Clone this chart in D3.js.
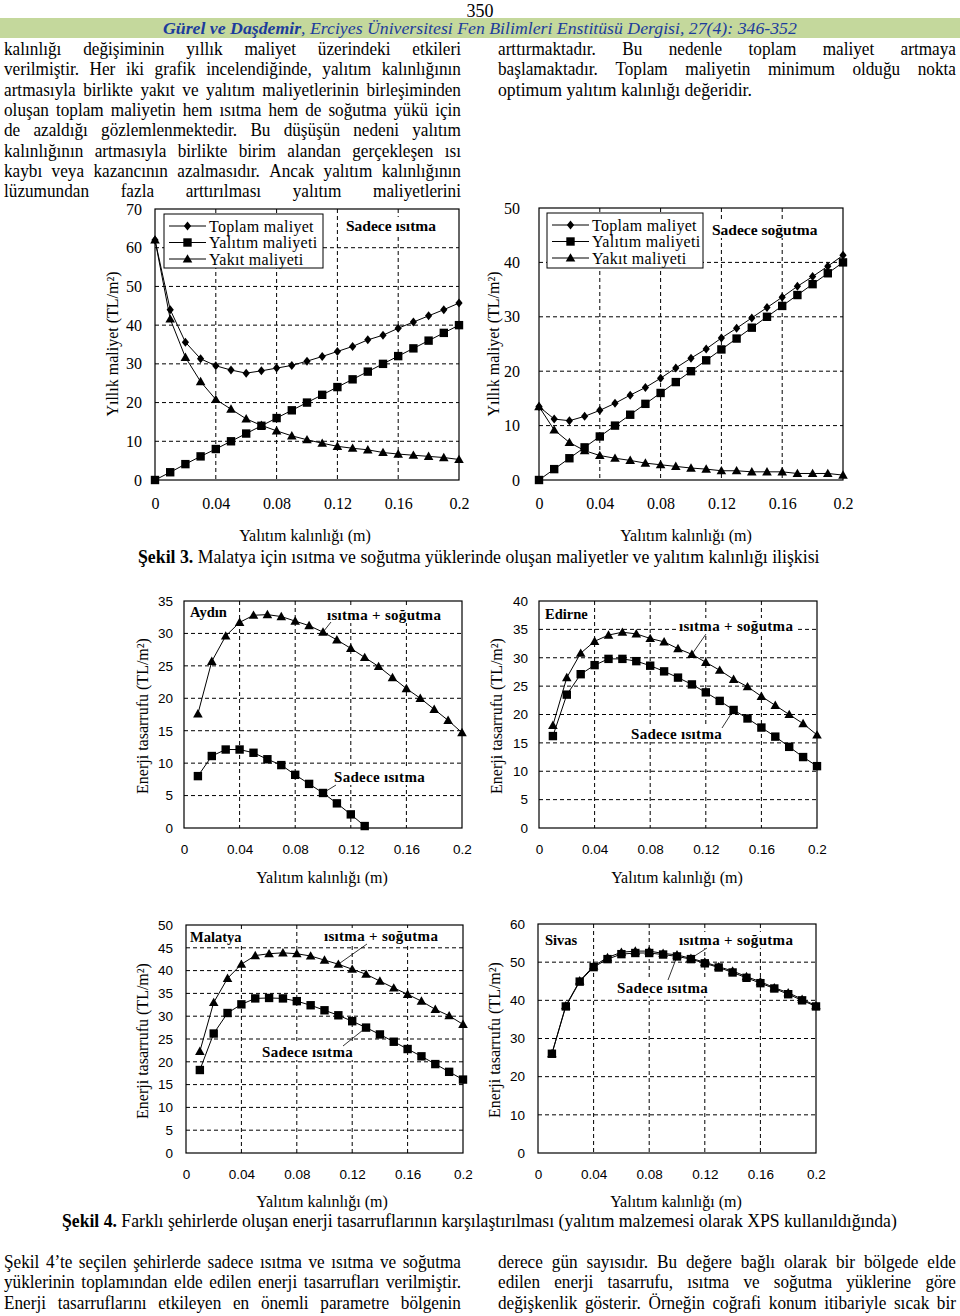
<!DOCTYPE html>
<html><head><meta charset="utf-8">
<script src="https://cdn.jsdelivr.net/npm/d3@7/dist/d3.min.js"></script>
<style>body{margin:0;background:#fff}</style>
</head><body>
<svg id="page" width="960" height="1316" xmlns="http://www.w3.org/2000/svg"></svg>
<script>
// ---------------- DATA ----------------
const thickness = [0,0.01,0.02,0.03,0.04,0.05,0.06,0.07,0.08,0.09,0.10,0.11,0.12,0.13,0.14,0.15,0.16,0.17,0.18,0.19,0.20];
const thicknessFrom1 = [0.01,0.02,0.03,0.04,0.05,0.06,0.07,0.08,0.09,0.10,0.11,0.12,0.13,0.14,0.15,0.16,0.17,0.18,0.19,0.20];
const xTickValues = [0,0.04,0.08,0.12,0.16,0.2];
const xTickLabels = ["0","0.04","0.08","0.12","0.16","0.2"];

// Şekil 3 - Sadece ısıtma
const heatTotal      = [62,44,35.6,31.3,29.5,28.4,27.6,28.2,28.9,29.6,30.7,31.9,33.2,34.5,36.2,37.4,39.2,40.8,42.4,44,45.7];
const heatInsulation = [0,2,4.1,6.1,8,10,12,14,16,18,20,22,24,26,28,30,32,34,36,38,40];
const heatFuel       = [62,41.6,31.7,25.4,20.8,18.3,15.8,14.1,12.7,11.4,10.4,9.5,8.7,8.2,7.8,7.1,6.7,6.4,6.1,5.8,5.3];
// Şekil 3 - Sadece soğutma
const coolTotal      = [13.5,11.2,10.9,11.7,12.8,14.1,15.6,17.0,18.7,20.6,22.4,24.1,26.1,27.9,29.8,31.7,33.6,35.6,37.4,39.3,41.3];
const coolInsulation = [0,2,4,6,8,10,12,14,16,18,20,22,24,26,28,30,32,34,36,38,40];
const coolFuel       = [13.5,9.2,6.9,5.4,4.5,4.0,3.6,3.1,2.8,2.5,2.2,2.0,1.7,1.7,1.5,1.5,1.5,1.2,1.2,1.2,0.9];

// Şekil 4 - energy savings (x = thicknessFrom1)
const aydinBoth   = [17.6,25.7,29.6,31.7,32.8,32.9,32.6,31.9,31.2,30.2,29.0,27.7,26.3,24.9,23.2,21.5,20.0,18.3,16.6,14.7];
const aydinHeat   = [8.0,11.1,12.1,12.1,11.6,10.6,9.7,8.2,6.8,5.4,3.8,2.1,0.3];
const edirneBoth  = [18.1,26.5,30.8,32.9,34.0,34.5,34.2,33.4,32.8,31.6,30.6,29.2,27.8,26.2,24.9,23.2,21.6,20.0,18.4,16.4];
const edirneHeat  = [16.2,23.5,27.1,28.7,29.8,29.8,29.4,28.6,27.6,26.5,25.3,23.9,22.4,20.8,19.3,17.7,16.1,14.3,12.5,10.9];
const malatyaBoth = [22.3,33.0,38.3,41.4,43.3,43.7,43.9,43.7,43.2,42.3,41.4,40.3,39.2,37.7,36.2,34.8,33.3,31.5,30.1,28.2];
const malatyaHeat = [18.2,26.2,30.7,32.6,33.9,34.0,33.9,33.3,32.4,31.3,30.2,28.9,27.5,26.0,24.4,22.8,21.2,19.5,17.8,16.1];
const sivasBoth   = [26.0,38.6,45.1,49.0,51.2,52.6,52.9,52.9,52.3,51.9,51.0,50.0,48.8,47.7,46.2,44.9,43.3,42.0,40.3,38.6];
const sivasHeat   = [26.0,38.4,44.9,48.7,50.8,52.1,52.4,52.4,52.0,51.5,50.8,49.7,48.6,47.3,45.9,44.5,43.1,41.6,40.0,38.4];

const yTicksHeat   = [0,10,20,30,40,50,60,70];
const yTicksCool   = [0,10,20,30,40,50];
const yTicksAydin  = [0,5,10,15,20,25,30,35];
const yTicksEdirne = [0,5,10,15,20,25,30,35,40];
const yTicksMalatya= [0,5,10,15,20,25,30,35,40,45,50];
const yTicksSivas  = [0,10,20,30,40,50,60];

const legendNames = ["Toplam maliyet","Yalıtım maliyeti","Yakıt maliyeti"];

// ---------------- TEXT ----------------
const leftTop = [
 "kalınlığı değişiminin yıllık maliyet üzerindeki etkileri",
 "verilmiştir. Her iki grafik incelendiğinde, yalıtım kalınlığının",
 "artmasıyla birlikte yakıt ve yalıtım maliyetlerinin birleşiminden",
 "oluşan toplam maliyetin hem ısıtma hem de soğutma yükü için",
 "de azaldığı gözlemlenmektedir. Bu düşüşün nedeni yalıtım",
 "kalınlığının artmasıyla birlikte birim alandan gerçekleşen ısı",
 "kaybı veya kazancının azalmasıdır. Ancak yalıtım kalınlığının",
 "lüzumundan fazla arttırılması yalıtım maliyetlerini"];
const rightTop = [
 "arttırmaktadır. Bu nedenle toplam maliyet artmaya",
 "başlamaktadır. Toplam maliyetin minimum olduğu nokta"];
const rightTopLast = "optimum yalıtım kalınlığı değeridir.";
const leftBottom = [
 "Şekil 4’te seçilen şehirlerde sadece ısıtma ve ısıtma ve soğutma",
 "yüklerinin toplamından elde edilen enerji tasarrufları verilmiştir.",
 "Enerji tasarruflarını etkileyen en önemli parametre bölgenin"];
const rightBottom = [
 "derece gün sayısıdır. Bu değere bağlı olarak bir bölgede elde",
 "edilen enerji tasarrufu, ısıtma ve soğutma yüklerine göre",
 "değişkenlik gösterir. Örneğin coğrafi konum itibariyle sıcak bir"];

// ---------------- DRAWING ----------------
const svg = d3.select('#page');
const SERIF = "'Liberation Serif','Times New Roman',serif";
const SANS = "'Liberation Sans',Arial,sans-serif";
const BODY_FS = 18.5, K = 0.93;

svg.append('rect').attr('width',960).attr('height',1316).attr('fill','#fff');

function measure(str, fs, weight, style, family){
  const t = svg.append('text').attr('font-family',family||SERIF).attr('font-size',fs)
    .attr('font-weight',weight||'normal').attr('font-style',style||'normal').text(str);
  const w = t.node().getComputedTextLength(); t.remove(); return w;
}
function justified(x0, x1, y, str){
  const words = str.split(' ');
  const ws = words.map(w=>measure(w,BODY_FS));
  const sum = d3.sum(ws), target = x1-x0;
  let k = K;
  const minGap = BODY_FS*0.18;
  if ((sum + minGap*(words.length-1))*k > target) k = target/(sum + minGap*(words.length-1));
  const gap = (target/k - sum)/(words.length-1);
  const g = svg.append('g').attr('transform',`translate(${x0},${y}) scale(${k},1)`);
  let cx = 0;
  words.forEach((w,i)=>{
    g.append('text').attr('x',cx).attr('y',0).attr('font-family',SERIF).attr('font-size',BODY_FS).attr('fill','#000').text(w);
    cx += ws[i] + gap;
  });
}
function fitted(x0, x1, y, parts, fs, fill){
  const g = svg.append('g');
  const t = g.append('text').attr('font-family',SERIF).attr('font-size',fs).attr('fill',fill||'#000');
  parts.forEach(p=>t.append('tspan').attr('font-weight',p.b?'bold':'normal').attr('font-style',p.i?'italic':'normal').text(p.t));
  const w = t.node().getComputedTextLength();
  g.attr('transform',`translate(${x0},${y}) scale(${(x1-x0)/w},1)`);
}

// page number & header
svg.append('text').attr('x',480).attr('y',16.5).attr('text-anchor','middle').attr('font-family',SERIF).attr('font-size',18).attr('fill','#000').text('350');
svg.append('rect').attr('x',0).attr('y',18).attr('width',960).attr('height',20).attr('fill','#c4d89c');
fitted(163,797,34,[{t:'Gürel ve Daşdemir',b:1,i:1},{t:', Erciyes Üniversitesi Fen Bilimleri Enstitüsü Dergisi, 27(4): 346-352',i:1}],17.5,'#1c3c9c');

// body text
const LH = 20.3;
leftTop.forEach((s,i)=>justified(4,461,55+i*LH,s));
rightTop.forEach((s,i)=>justified(498,956,55+i*LH,s));
fitted(498,752,55+2*LH,[{t:rightTopLast}],BODY_FS);
fitted(138,820,563,[{t:'Şekil 3.',b:1},{t:'  Malatya için ısıtma ve soğutma yüklerinde oluşan maliyetler ve yalıtım kalınlığı ilişkisi'}],BODY_FS);
fitted(62,897,1227,[{t:'Şekil 4.',b:1},{t:' Farklı şehirlerde oluşan enerji tasarruflarının karşılaştırılması (yalıtım malzemesi olarak XPS kullanıldığında)'}],BODY_FS);
leftBottom.forEach((s,i)=>justified(4,461,1268+i*LH,s));
rightBottom.forEach((s,i)=>justified(498,956,1268+i*LH,s));

// markers
const markerPath = {
  diamond: 'M0,-4.5L3.6,0L0,4.5L-3.6,0Z',
  square: 'M-4.2,-4.2h8.4v8.4h-8.4Z',
  triangle: 'M0,-4.8L4.8,3.6L-4.8,3.6Z'
};

function drawChart(c){
  const g = svg.append('g');
  const x = d3.scaleLinear().domain([0,0.2]).range([c.left,c.right]);
  const y = d3.scaleLinear().domain([0,c.yMax]).range([c.bottom,c.top]);
  // grid
  g.selectAll(null).data(xTickValues.filter(v=>v>0&&v<0.2)).join('line')
    .attr('x1',d=>x(d)).attr('x2',d=>x(d)).attr('y1',c.top).attr('y2',c.bottom)
    .attr('stroke','#000').attr('stroke-width',1).attr('stroke-dasharray','4,3');
  g.selectAll(null).data(c.yTicks.filter(v=>v>0&&v<c.yMax)).join('line')
    .attr('y1',d=>y(d)).attr('y2',d=>y(d)).attr('x1',c.left).attr('x2',c.right)
    .attr('stroke','#000').attr('stroke-width',1).attr('stroke-dasharray','4,3');
  g.append('rect').attr('x',c.left).attr('y',c.top).attr('width',c.right-c.left).attr('height',c.bottom-c.top)
    .attr('fill','none').attr('stroke','#000').attr('stroke-width',1.2);
  // axes
  const ya = g.append('g').attr('transform',`translate(${c.left},0)`)
    .call(d3.axisLeft(y).tickValues(c.yTicks).tickSize(0).tickPadding(c.yPad).tickFormat(d3.format('d')));
  const xa = g.append('g').attr('transform',`translate(0,${c.bottom})`)
    .call(d3.axisBottom(x).tickValues(xTickValues).tickSize(0).tickPadding(c.xPad).tickFormat((d,i)=>xTickLabels[i]));
  [ya,xa].forEach(a=>{a.select('.domain').remove();
    a.selectAll('text').attr('font-family',c.tickFamily).attr('font-size',c.tickFs).attr('fill','#000');});
  // titles
  g.append('text').attr('transform',`translate(${c.yTitleX},${c.yTitleY}) rotate(-90)`).attr('dy','0.35em')
    .attr('text-anchor','middle').attr('font-family',SERIF).attr('font-size',16).attr('fill','#000').text(c.yTitle);
  g.append('text').attr('x',c.xTitleX).attr('y',c.xTitleY).attr('dy','0.35em')
    .attr('text-anchor','middle').attr('font-family',SERIF).attr('font-size',16).attr('fill','#000').text('Yalıtım kalınlığı (m)');
  // labels with white background
  (c.labels||[]).forEach(l=>{
    const t = g.append('text').attr('x',l.x).attr('y',l.y).attr('font-family',SERIF).attr('font-weight','bold')
      .attr('font-size',l.fs||15).attr('fill','#000').attr('letter-spacing',l.ls||0).text(l.text);
    const b = t.node().getBBox();
    g.insert('rect',()=>t.node()).attr('x',b.x-2).attr('y',b.y).attr('width',b.width+4).attr('height',b.height).attr('fill','#fff');
    if (l.ptr){
      const s = l.ptr.series;
      g.append('line').attr('x1',l.ptr.x).attr('y1',l.ptr.y)
        .attr('x2',x(s.xs[l.ptr.i])).attr('y2',y(s.ys[l.ptr.i])).attr('stroke','#000').attr('stroke-width',0.8);
    }
  });
  // legend
  if (c.legend){
    const L = c.legend;
    g.append('rect').attr('x',L.x).attr('y',L.y).attr('width',L.w).attr('height',L.h).attr('fill','#fff').attr('stroke','#000').attr('stroke-width',1);
    c.series.forEach((s,i)=>{
      const ry = L.y + 12 + i*16.5;
      g.append('line').attr('x1',L.x+5).attr('x2',L.x+42).attr('y1',ry).attr('y2',ry).attr('stroke','#000');
      g.append('path').attr('d',markerPath[s.marker]).attr('transform',`translate(${L.x+23.5},${ry})`).attr('fill','#000');
      g.append('text').attr('x',L.x+45).attr('y',ry).attr('dy','0.35em').attr('font-family',SERIF).attr('font-size',16)
        .attr('letter-spacing',0.3).attr('fill','#000').text(legendNames[i]);
    });
  }
  // series
  c.series.forEach(s=>{
    const pts = s.xs.map((xv,i)=>[xv,s.ys[i]]);
    g.append('path').attr('d',d3.line().x(d=>x(d[0])).y(d=>y(d[1]))(pts)).attr('fill','none').attr('stroke','#000').attr('stroke-width',1);
    g.selectAll(null).data(pts).join('path').attr('d',markerPath[s.marker])
      .attr('transform',d=>`translate(${x(d[0])},${y(d[1])})`).attr('fill','#000');
  });
}

// Şekil 3 charts
drawChart({left:155,right:459,top:209,bottom:480,yMax:70,yTicks:yTicksHeat,yPad:13,xPad:18,tickFamily:SERIF,tickFs:16,
  yTitle:'Yıllık maliyet (TL/m²)',yTitleX:112,yTitleY:344,xTitleX:305,xTitleY:535,
  series:[{xs:thickness,ys:heatTotal,marker:'diamond'},{xs:thickness,ys:heatInsulation,marker:'square'},{xs:thickness,ys:heatFuel,marker:'triangle'}],
  legend:{x:164,y:214,w:159,h:54},
  labels:[{text:'Sadece ısıtma',x:346,y:231,fs:15.5}]});
drawChart({left:539,right:843,top:208,bottom:480,yMax:50,yTicks:yTicksCool,yPad:19,xPad:18,tickFamily:SERIF,tickFs:16,
  yTitle:'Yıllık maliyet (TL/m²)',yTitleX:493,yTitleY:344,xTitleX:686,xTitleY:535,
  series:[{xs:thickness,ys:coolTotal,marker:'diamond'},{xs:thickness,ys:coolInsulation,marker:'square'},{xs:thickness,ys:coolFuel,marker:'triangle'}],
  legend:{x:547,y:213,w:156,h:55},
  labels:[{text:'Sadece soğutma',x:712,y:235,fs:15.5}]});

// Şekil 4 charts
function cityChart(o){
  const both = {xs:thicknessFrom1,ys:o.both,marker:'triangle'};
  const heat = {xs:thicknessFrom1.slice(0,o.heat.length),ys:o.heat,marker:'square'};
  drawChart({left:o.left,right:o.right,top:o.top,bottom:o.bottom,yMax:o.yMax,yTicks:o.yTicks,yPad:o.yPad,xPad:16,
    tickFamily:SANS,tickFs:13.5,yTitle:'Enerji tasarrufu (TL/m²)',yTitleX:o.yTitleX,yTitleY:o.yTitleY,
    xTitleX:o.xTitleX,xTitleY:o.xTitleY,series:[both,heat],
    labels:[{text:o.city,x:o.cityX,y:o.cityY,fs:14.5},
      {text:'ısıtma + soğutma',x:o.bl.x,y:o.bl.y,fs:15,ls:0.3,ptr:{x:o.bl.px,y:o.bl.py,series:both,i:o.bl.i}},
      {text:'Sadece ısıtma',x:o.hl.x,y:o.hl.y,fs:15,ls:0.3,ptr:{x:o.hl.px,y:o.hl.py,series:heat,i:o.hl.i}}]});
}
cityChart({city:'Aydın',both:aydinBoth,heat:aydinHeat,left:184,right:462,top:601,bottom:828,yMax:35,yTicks:yTicksAydin,yPad:11,
  yTitleX:142,yTitleY:716,xTitleX:322,xTitleY:877,cityX:190,cityY:617,
  bl:{x:327,y:620,px:331,py:622,i:9},hl:{x:334,y:782,px:336,py:785,i:9}});
cityChart({city:'Edirne',both:edirneBoth,heat:edirneHeat,left:539,right:817,top:601,bottom:828,yMax:40,yTicks:yTicksEdirne,yPad:11,
  yTitleX:496,yTitleY:716,xTitleX:677,xTitleY:877,cityX:545,cityY:619,
  bl:{x:679,y:631,px:706,py:634,i:10},hl:{x:631,y:739,px:722,py:728,i:13}});
cityChart({city:'Malatya',both:malatyaBoth,heat:malatyaHeat,left:186,right:463,top:925,bottom:1153,yMax:50,yTicks:yTicksMalatya,yPad:13,
  yTitleX:142,yTitleY:1041,xTitleX:322,xTitleY:1201,cityX:190,cityY:942,
  bl:{x:324,y:941,px:367,py:944,i:10},hl:{x:262,y:1057,px:343,py:1046,i:12}});
cityChart({city:'Sivas',both:sivasBoth,heat:sivasHeat,left:538,right:816,top:924,bottom:1153,yMax:60,yTicks:yTicksSivas,yPad:13,
  yTitleX:494,yTitleY:1040,xTitleX:676,xTitleY:1201,cityX:545,cityY:945,
  bl:{x:679,y:945,px:707,py:948,i:10},hl:{x:617,y:993,px:668,py:980,i:9}});
</script>
</body></html>
